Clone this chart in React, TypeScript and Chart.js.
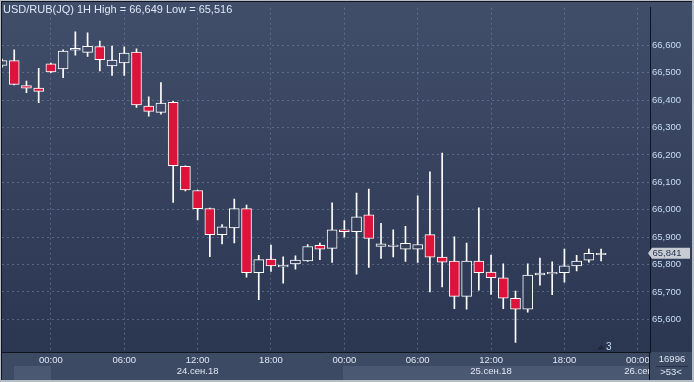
import { useEffect, useRef } from "react";
import { Chart, registerables } from "chart.js";

Chart.register(...registerables);

// Hourly candles, hour 0 = 24.09.18 00:00
const hours = [-4, -3, -2, -1, 0, 1, 2, 3, 4, 5, 6, 7, 8, 9, 10, 11, 12, 13, 14, 15, 16, 17, 18, 19, 20, 21, 22, 23, 24, 25, 26, 27, 28, 29, 30, 31, 32, 33, 34, 35, 36, 37, 38, 39, 40, 41, 42, 43, 44, 45];
const opens = [66.526, 66.544, 66.453, 66.444, 66.532, 66.514, 66.582, 66.574, 66.595, 66.525, 66.536, 66.575, 66.378, 66.355, 66.392, 66.158, 66.07, 66.004, 65.909, 65.934, 66.004, 65.77, 65.82, 65.791, 65.802, 65.813, 65.87, 65.859, 65.927, 65.92, 65.981, 65.866, 65.866, 65.856, 65.856, 65.909, 65.827, 65.813, 65.684, 65.813, 65.773, 65.752, 65.677, 65.637, 65.762, 65.766, 65.77, 65.795, 65.816, 65.836];
const highs = [66.55, 66.583, 66.469, 66.516, 66.535, 66.583, 66.649, 66.645, 66.615, 66.597, 66.594, 66.587, 66.412, 66.464, 66.395, 66.16, 66.072, 66.006, 65.946, 66.039, 66.017, 65.834, 65.871, 65.828, 65.832, 65.873, 65.878, 66.025, 65.96, 66.061, 66.075, 65.95, 65.927, 65.939, 66.051, 66.138, 66.207, 65.901, 65.878, 66.007, 65.835, 65.803, 65.703, 65.803, 65.824, 65.81, 65.856, 65.834, 65.856, 65.856];
const lows = [66.52, 66.455, 66.427, 66.391, 66.5, 66.482, 66.564, 66.559, 66.506, 66.49, 66.49, 66.373, 66.341, 66.349, 66.027, 66.069, 65.963, 65.829, 65.875, 65.879, 65.754, 65.672, 65.775, 65.732, 65.783, 65.811, 65.818, 65.808, 65.9, 65.765, 65.79, 65.822, 65.828, 65.811, 65.808, 65.7, 65.718, 65.639, 65.637, 65.707, 65.691, 65.639, 65.516, 65.626, 65.725, 65.69, 65.736, 65.777, 65.809, 65.813];
const closes = [66.544, 66.457, 66.443, 66.432, 66.503, 66.579, 66.589, 66.596, 66.547, 66.546, 66.571, 66.382, 66.359, 66.389, 66.161, 66.072, 66.004, 65.909, 65.938, 66.004, 65.77, 65.818, 65.795, 65.798, 65.816, 65.866, 65.856, 65.927, 65.92, 65.974, 65.895, 65.876, 65.871, 65.877, 65.873, 65.827, 65.809, 65.684, 65.813, 65.77, 65.752, 65.677, 65.637, 65.762, 65.769, 65.772, 65.795, 65.813, 65.841, 65.841];

const timeTickHours = [0, 6, 12, 18, 24, 30, 36, 42, 48];
const timeTickLabels = ["00:00", "06:00", "12:00", "18:00", "00:00", "06:00", "12:00", "18:00", "00:00"];
const dateLabels = ["24.сен.18", "25.сен.18", "26.сен.18"];
const dateLabelHours = [12, 36, 48.6];
const priceTicks = [65.6, 65.7, 65.8, 65.9, 66.0, 66.1, 66.2, 66.3, 66.4, 66.5, 66.6];
const titleText = "USD/RUB(JQ) 1H High = 66,649 Low = 65,516";
const barsCountText = "16996";
const scrollText = ">53<";
const markerText = "3";
const markerHour = 45;

const FONT = "'Liberation Sans', Arial, sans-serif";
const RED = "#dc143c";
const fmt = (v: number) => v.toFixed(3).replace(".", ",");

export default function App() {
  const ref = useRef<HTMLCanvasElement>(null);

  useEffect(() => {
    document.body.style.margin = "0";
    const canvas = ref.current!;
    const c2d = canvas.getContext("2d")!;
    const grad = c2d.createLinearGradient(0, 0, 0, 352);
    grad.addColorStop(0, "#414e6a");
    grad.addColorStop(1, "#2b3651");

    const decor = {
      id: "decor",
      beforeDraw(chart: any) {
        const ctx = chart.ctx;
        ctx.save();
        ctx.fillStyle = grad;
        ctx.fillRect(0, 0, 694, 352);
        ctx.fillStyle = "#3d4a64";
        ctx.fillRect(0, 352, 694, 30);
        ctx.fillStyle = "#4b5872";
        ctx.fillRect(14, 366, 37, 14);
        ctx.fillRect(343, 366, 307, 14);
        ctx.restore();
      },
      afterDraw(chart: any) {
        const ctx = chart.ctx;
        const xs = chart.scales.x;
        const ys = chart.scales.y;
        const area = chart.chartArea;
        ctx.save();
        // title
        ctx.font = `11px ${FONT}`;
        ctx.fillStyle = "#dde7f5";
        ctx.textAlign = "left";
        ctx.textBaseline = "alphabetic";
        ctx.fillText(titleText, 3, 12.5);

        // date labels (clipped to plot width)
        ctx.save();
        ctx.beginPath();
        ctx.rect(0, 353, area.right, 28);
        ctx.clip();
        ctx.font = `9.5px ${FONT}`;
        ctx.fillStyle = "#dfe7f2";
        ctx.textAlign = "center";
        ctx.textBaseline = "middle";
        dateLabels.forEach((t, i) => {
          ctx.fillText(t, xs.getPixelForValue(dateLabelHours[i]), 371.5);
        });
        ctx.restore();

        // marker
        const mx = xs.getPixelForValue(markerHour);
        ctx.fillStyle = "#1f273a";
        ctx.beginPath();
        ctx.moveTo(mx - 4, 349.5);
        ctx.lineTo(mx, 345);
        ctx.lineTo(mx + 4, 349.5);
        ctx.closePath();
        ctx.fill();
        ctx.fillStyle = "#c6dcf6";
        ctx.font = `10px ${FONT}`;
        ctx.textAlign = "left";
        ctx.textBaseline = "middle";
        ctx.fillText(markerText, mx + 5, 347);

        // last price tag
        const last = closes[closes.length - 1];
        const py = ys.getPixelForValue(last);
        ctx.fillStyle = "#c6cbd4";
        ctx.beginPath();
        ctx.moveTo(648, py);
        ctx.lineTo(652, py - 5.5);
        ctx.lineTo(690, py - 5.5);
        ctx.lineTo(690, py + 5.5);
        ctx.lineTo(652, py + 5.5);
        ctx.closePath();
        ctx.fill();
        ctx.fillStyle = "#2c3652";
        ctx.font = `9.5px ${FONT}`;
        ctx.textAlign = "left";
        ctx.fillText(fmt(last), 652.5, py + 0.5);

        // bottom-right info box
        ctx.fillStyle = "#dfe7f2";
        ctx.textAlign = "center";
        ctx.fillText(barsCountText, 672, 359.5);
        ctx.fillText(scrollText, 671, 372.5);
        ctx.strokeStyle = "#26304a";
        ctx.lineWidth = 1;
        ctx.beginPath();
        ctx.moveTo(656, 366.5);
        ctx.lineTo(688, 366.5);
        ctx.stroke();

        // separators and frame
        ctx.strokeStyle = "#10141d";
        ctx.beginPath();
        ctx.moveTo(649.5, 352);
        ctx.lineTo(649.5, 380);
        ctx.moveTo(1.5, 1);
        ctx.lineTo(1.5, 380);
        ctx.moveTo(1, 1.5);
        ctx.lineTo(692, 1.5);
        ctx.stroke();
        ctx.fillStyle = "#b7bdc7";
        ctx.fillRect(0, 0, 694, 1);
        ctx.fillRect(0, 0, 1, 382);
        ctx.fillRect(692, 0, 2, 382);
        ctx.fillRect(0, 380, 694, 2);
        ctx.restore();
      },
    };

    const gridColor = "rgba(115,130,160,0.6)";
    const tickFont = { family: FONT, size: 9.5 };

    const chart = new Chart(canvas, {
      type: "bar",
      data: {
        datasets: [
          {
            data: hours.map((h, i) => ({ x: h, y: [Math.max(opens[i], closes[i]), highs[i]] })),
            backgroundColor: "#ffffff",
            borderWidth: 0,
            grouped: false,
            categoryPercentage: 1,
            barPercentage: 1,
            maxBarThickness: 1,
            clip: 0,
          } as any,
          {
            data: hours.map((h, i) => ({ x: h, y: [lows[i], Math.min(opens[i], closes[i])] })),
            backgroundColor: "#ffffff",
            borderWidth: 0,
            grouped: false,
            categoryPercentage: 1,
            barPercentage: 1,
            maxBarThickness: 1,
            clip: 0,
          } as any,
          {
            data: hours.map((h, i) => ({ x: h, y: [opens[i], closes[i]] })),
            backgroundColor: (c: any) => (closes[c.dataIndex] < opens[c.dataIndex] ? RED : grad),
            borderColor: "#ffffff",
            borderWidth: 1,
            borderSkipped: false,
            grouped: false,
            categoryPercentage: 1,
            barPercentage: 1,
            maxBarThickness: 10,
            clip: 0,
          } as any,
        ],
      },
      options: {
        animation: false,
        responsive: false,
        devicePixelRatio: 1,
        layout: { padding: { left: 2, top: 1, right: 0, bottom: 0 } },
        plugins: { legend: { display: false }, tooltip: { enabled: false } },
        scales: {
          x: {
            type: "linear",
            position: "bottom",
            min: -4,
            max: 49,
            offset: false,
            afterBuildTicks: (ax: any) => {
              ax.ticks = timeTickHours.map((v) => ({ value: v }));
            },
            afterFit: (ax: any) => {
              ax.height = 30;
            },
            grid: { color: gridColor, drawTicks: false, offset: false, lineWidth: 1 },
            border: { color: "#10141d", width: 1, dash: [2, 3] },
            ticks: {
              color: "#dfe7f2",
              font: tickFont,
              padding: 3,
              maxRotation: 0,
              autoSkip: false,
              callback: (_v: any, i: number) => timeTickLabels[i],
            },
          } as any,
          y: {
            type: "linear",
            position: "right",
            min: 65.481,
            max: 66.737,
            afterBuildTicks: (ax: any) => {
              ax.ticks = priceTicks.map((v) => ({ value: v }));
            },
            afterFit: (ax: any) => {
              ax.width = 44;
            },
            grid: { color: gridColor, drawTicks: false, lineWidth: 1 },
            border: { color: "#10141d", width: 1, dash: [2, 3] },
            ticks: {
              color: "#c8dcf4",
              font: tickFont,
              padding: 2,
              callback: (v: any) => fmt(Number(v)),
            },
          } as any,
        },
      },
      plugins: [decor],
    });

    return () => chart.destroy();
  }, []);

  return (
    <div style={{ width: 694, height: 382 }}>
      <canvas ref={ref} width={694} height={382} style={{ display: "block" }} />
    </div>
  );
}
